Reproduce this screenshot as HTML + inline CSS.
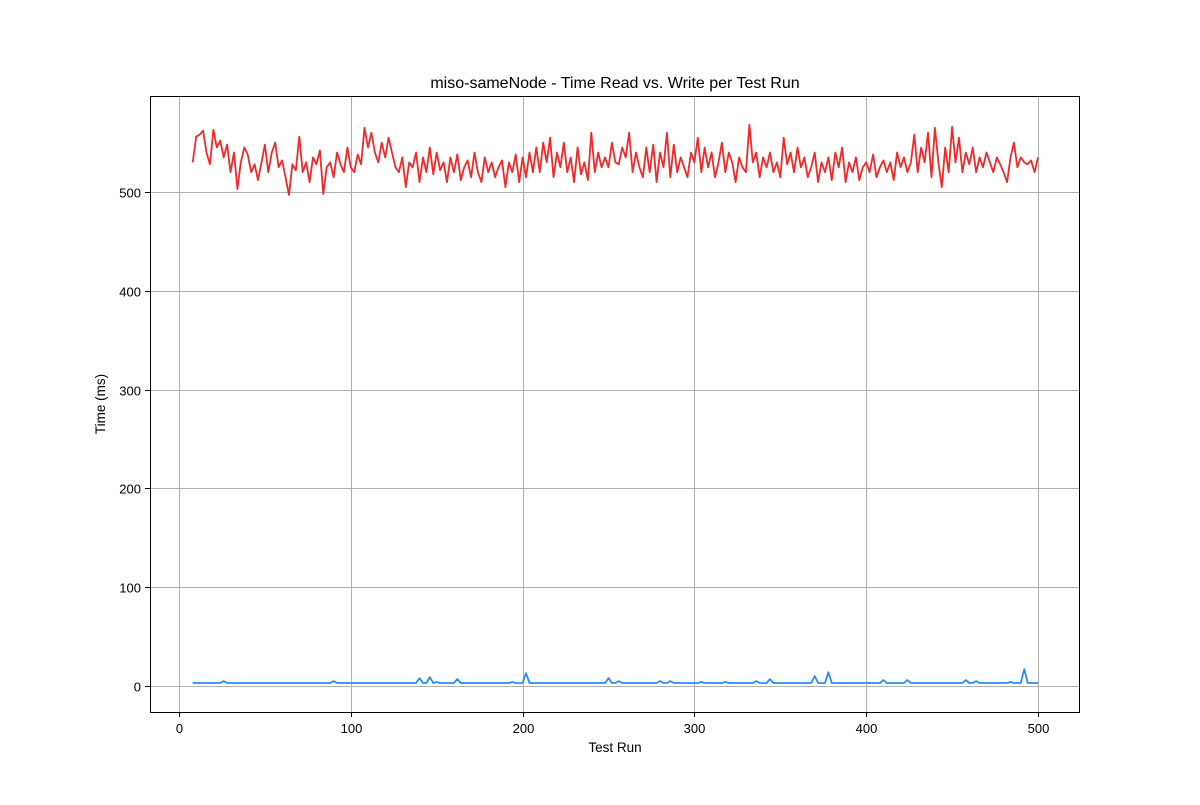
<!DOCTYPE html>
<html><head><meta charset="utf-8"><style>
body{margin:0;background:#fff;}
svg text{font-family:"Liberation Sans","DejaVu Sans",sans-serif;fill:#000;}
</style></head><body>
<svg id="chart" width="1200" height="800" xmlns="http://www.w3.org/2000/svg">
<rect width="1200" height="800" fill="#fff"/>
<g id="grid"></g>
<g id="series"></g>
<rect x="150.5" y="96.5" width="929" height="616" fill="none" stroke="#000" stroke-width="1"/>
<g id="ticks"></g>
<text x="615" y="88" font-size="16" text-anchor="middle">miso-sameNode - Time Read vs. Write per Test Run</text>
<text x="615" y="752" font-size="13.5" text-anchor="middle">Test Run</text>
<text x="105" y="404" font-size="13.5" text-anchor="middle" transform="rotate(-90 105 404)">Time (ms)</text>
</svg>
<script>
const xTicks=[0,100,200,300,400,500];
const yTicks=[0,100,200,300,400,500];
const runStart=8, runStep=2;
const writeTimes=[530,556,558,562,540,528,563,545,552,535,
548,520,540,503,530,545,538,520,528,512,
530,548,520,540,550,525,532,515,497,528,
522,556,520,530,510,535,528,542,498,525,
530,515,540,528,520,545,525,520,538,528,
565,545,560,540,530,550,535,555,540,525,
520,535,505,530,525,540,510,535,520,545,
518,540,522,530,510,535,520,538,512,525,
532,515,540,520,510,535,520,530,515,525,
532,505,530,520,538,510,535,515,540,520,
545,520,550,530,555,515,540,525,550,520,
535,510,545,518,530,512,560,520,540,525,
535,525,550,530,528,545,535,560,520,540,
525,515,545,520,548,510,540,525,560,515,
548,520,535,525,515,540,530,555,520,545,
525,540,515,530,550,520,540,530,510,535,
525,520,568,530,540,515,535,525,540,520,
530,515,555,528,540,520,545,525,535,515,
525,540,510,530,520,535,512,540,525,545,
510,530,520,535,512,525,530,520,538,515,
525,532,520,530,512,540,525,535,520,530,
558,520,545,530,560,515,565,530,505,545,
520,566,530,555,520,540,528,545,520,535,
525,540,530,520,535,528,520,510,535,550,
525,535,530,528,532,520,535];
const readTimes=[3,3,3,3,3,3,3,3,3,5,
3,3,3,3,3,3,3,3,3,3,
3,3,3,3,3,3,3,3,3,3,
3,3,3,3,3,3,3,3,3,3,
3,5,3,3,3,3,3,3,3,3,
3,3,3,3,3,3,3,3,3,3,
3,3,3,3,3,3,8,3,3,9,
3,4,3,3,3,3,3,7,3,3,
3,3,3,3,3,3,3,3,3,3,
3,3,3,4,3,3,3,13,3,3,
3,3,3,3,3,3,3,3,3,3,
3,3,3,3,3,3,3,3,3,3,
3,8,3,3,5,3,3,3,3,3,
3,3,3,3,3,3,5,3,3,5,
3,3,3,3,3,3,3,3,4,3,
3,3,3,3,3,4,3,3,3,3,
3,3,3,3,5,3,3,3,7,3,
3,3,3,3,3,3,3,3,3,3,
3,10,3,3,3,14,3,3,3,3,
3,3,3,3,3,3,3,3,3,3,
3,6,3,3,3,3,3,3,6,3,
3,3,3,3,3,3,3,3,3,3,
3,3,3,3,3,6,3,3,5,3,
3,3,3,3,3,3,3,3,4,3,
3,3,17,3,3,3,3];
const X=v=>179+v*(1038-179)/500;
const Y=v=>686-v*(686-192)/500;
const NS="http://www.w3.org/2000/svg";
const grid=document.getElementById('grid'),ticks=document.getElementById('ticks'),series=document.getElementById('series');
function mk(tag,attrs,parent){const e=document.createElementNS(NS,tag);for(const k in attrs)e.setAttribute(k,attrs[k]);parent.appendChild(e);return e;}
xTicks.forEach(t=>{
  const x=Math.round(X(t))+0.5;
  const g=mk('line',{x1:x,x2:x,y1:96,y2:712,stroke:'#b0b0b0','stroke-width':1},grid);
  
  
  const tk=mk('line',{x1:x,x2:x,y1:712,y2:717,stroke:'#000'},ticks);
  
  
  const tx=mk('text',{x:x,y:733,'font-size':13,'text-anchor':'middle'},ticks);tx.textContent=t;
  
  
});
yTicks.forEach(t=>{
  const y=Math.round(Y(t))+0.5;
  const g=mk('line',{x1:150,x2:1080,y1:y,y2:y,stroke:'#b0b0b0','stroke-width':1},grid);
  
  
  const tk=mk('line',{x1:145,x2:150,y1:y,y2:y,stroke:'#000'},ticks);
  
  
  const tx=mk('text',{x:141,y:y+5,'font-size':13,'text-anchor':'end'},ticks);tx.textContent=t;
  
  
});
function line(vals,color,name){
  const pts=vals.map((v,i)=>X(runStart+i*runStep).toFixed(1)+','+Y(v).toFixed(1)).join(' ');
  const p=mk('polyline',{points:pts,fill:'none',stroke:color,'stroke-width':1.8,'stroke-linejoin':'round'},series);
  
  
}
line(writeTimes,'#ee2a2a','write-time-line');
line(readTimes,'#2b8cf0','read-time-line');
</script>
</body></html>
